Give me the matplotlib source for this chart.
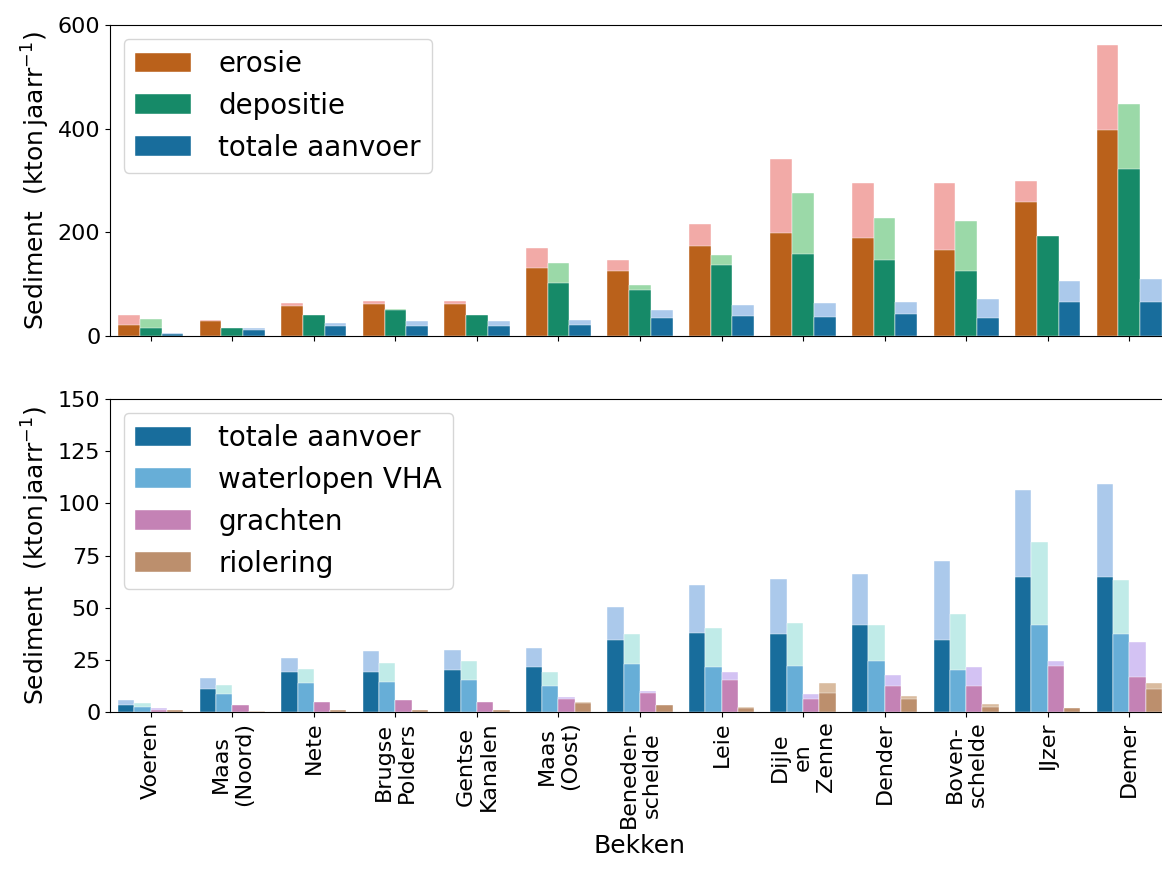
import numpy as np
import matplotlib
matplotlib.use("Agg")
import matplotlib.pyplot as plt

bekken = ["Voeren", "Maas\n(Noord)", "Nete", "Brugse\nPolders", "Gentse\nKanalen",
          "Maas\n(Oost)", "Beneden-\nschelde", "Leie", "Dijle\nen\nZenne", "Dender",
          "Boven-\nschelde", "IJzer", "Demer"]

# bovenste grafiek: (min, max) per bekken
erosie_min = [21, 28, 58, 61, 61, 131, 125, 174, 198, 189, 165, 259, 397]
erosie_max = [40, 30, 64, 67, 67, 170, 146, 217, 341, 296, 296, 299, 561]
depositie_min = [15, 15, 40, 51, 40, 103, 88, 137, 158, 146, 125, 192, 323]
depositie_max = [33, 16, 40, 52, 40, 140, 98, 156, 275, 228, 222, 192, 448]

# onderste grafiek
totaal_min = [3.2, 10.9, 19.2, 19.2, 20.0, 21.6, 34.3, 38.0, 37.4, 41.9, 34.3, 64.7, 64.7]
totaal_max = [5.6, 16.1, 26.0, 29.0, 29.7, 30.5, 50.2, 60.7, 63.7, 66.1, 72.2, 106.4, 109.4]
vha_min = [2.4, 8.6, 13.9, 14.5, 15.3, 12.3, 23.0, 21.6, 22.2, 24.4, 20.0, 41.9, 37.4]
vha_max = [4.2, 13.1, 20.6, 23.6, 24.4, 19.2, 37.2, 40.3, 42.7, 41.9, 47.1, 81.3, 63.1]
grachten_min = [1.1, 3.2, 4.8, 5.6, 4.8, 6.4, 9.3, 15.3, 6.2, 12.3, 12.3, 22.2, 16.9]
grachten_max = [1.8, 3.3, 4.9, 5.7, 4.9, 7.0, 10.0, 19.2, 8.6, 17.6, 21.6, 24.4, 33.5]
riolering_min = [0.8, 0.2, 0.8, 0.8, 0.8, 4.5, 3.2, 1.9, 9.3, 6.2, 2.6, 1.8, 10.9]
riolering_max = [0.9, 0.3, 0.9, 0.9, 0.9, 4.8, 3.3, 2.4, 13.9, 7.8, 4.0, 1.9, 13.9]

top_series = [
    ("erosie", erosie_min, erosie_max, "#ba611b", "#f2aaa7"),
    ("depositie", depositie_min, depositie_max, "#168a68", "#9bd9a8"),
    ("totale aanvoer", totaal_min, totaal_max, "#186d9c", "#abc9eb"),
]
bottom_series = [
    ("totale aanvoer", totaal_min, totaal_max, "#186d9c", "#abc9eb"),
    ("waterlopen VHA", vha_min, vha_max, "#67aed7", "#c0ebe8"),
    ("grachten", grachten_min, grachten_max, "#c482b5", "#d3c2f3"),
    ("riolering", riolering_min, riolering_max, "#bc8f6d", "#d9bb9f"),
]

fig = plt.figure(figsize=(11.62, 8.73), dpi=100)
ax1 = fig.add_axes([110 / 1162, (873 - 336) / 873, 1060 / 1162, 311 / 873])
ax2 = fig.add_axes([110 / 1162, (873 - 712) / 873, 1060 / 1162, 313 / 873])

x = np.arange(len(bekken))


def draw(ax, series):
    n = len(series)
    w = 0.8 / n
    for i, (label, lo, hi, dark, light) in enumerate(series):
        pos = x - 0.4 + w * (i + 0.5)
        ax.bar(pos, hi, width=w, color=light, edgecolor="white", linewidth=0.3)
        ax.bar(pos, lo, width=w, color=dark, edgecolor="white", linewidth=0.3, label=label)
    ax.set_xlim(-0.5, len(bekken) - 0.5)
    ax.set_xticks(x)
    ax.tick_params(labelsize=16)
    ax.set_ylabel("Sediment  (kton$\\,$jaarr$^{-1}$)", fontsize=18)
    ax.legend(loc="upper left", fontsize=20, handletextpad=1.0)


draw(ax1, top_series)
ax1.set_ylim(0, 600)
ax1.set_yticks([0, 200, 400, 600])
ax1.set_xticklabels([])

draw(ax2, bottom_series)
ax2.set_ylim(0, 150)
ax2.set_yticks([0, 25, 50, 75, 100, 125, 150])
ax2.set_xticklabels(bekken, rotation=90)
ax2.set_xlabel("Bekken", fontsize=18)

fig.align_ylabels([ax1, ax2])
fig.savefig("out.png", dpi=100)
